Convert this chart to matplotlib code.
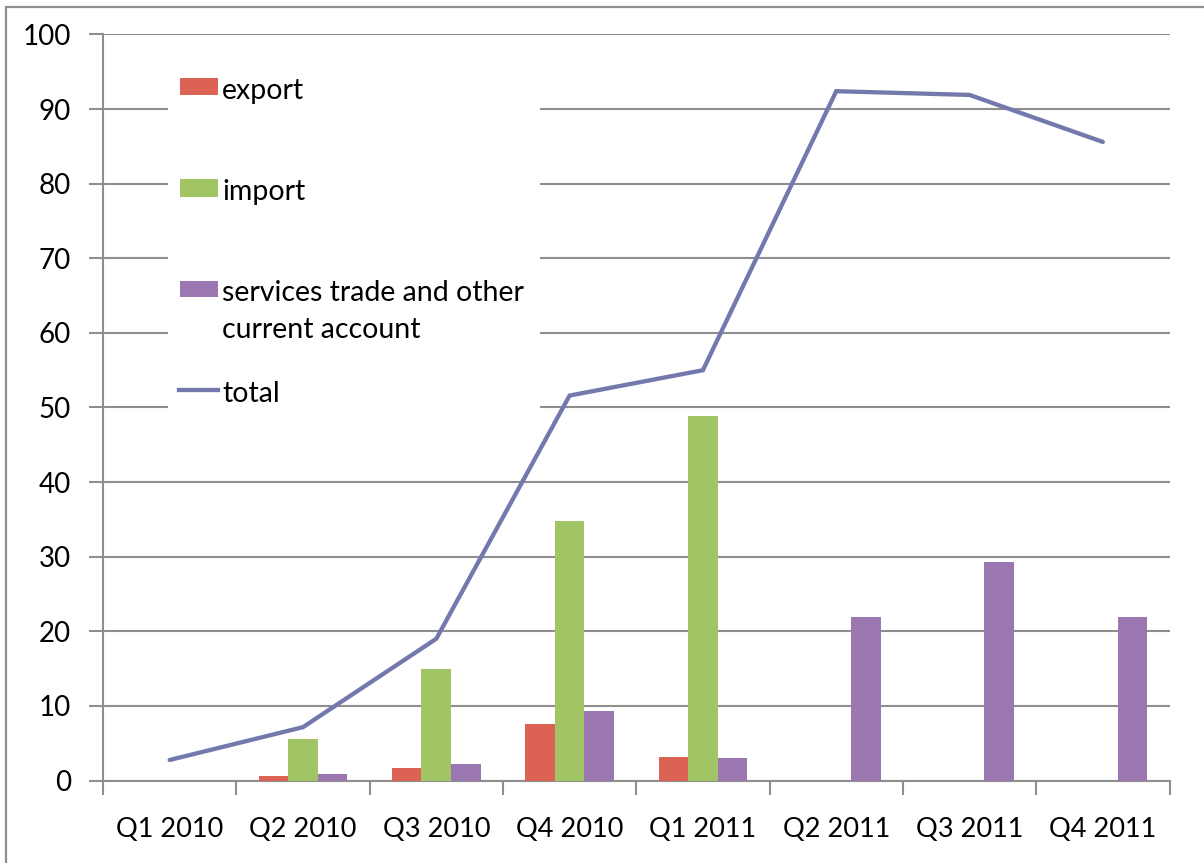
import numpy as np
import matplotlib
matplotlib.use("Agg")
import matplotlib.pyplot as plt
from matplotlib.patches import Rectangle
from matplotlib.lines import Line2D

plt.rcParams['font.family'] = ['Lato', 'DejaVu Sans']

categories = ["Q1 2010", "Q2 2010", "Q3 2010", "Q4 2010",
              "Q1 2011", "Q2 2011", "Q3 2011", "Q4 2011"]
export = [np.nan, 0.65, 1.7, 7.6, 3.1, np.nan, np.nan, np.nan]
imports = [np.nan, 5.6, 15.0, 34.8, 48.9, np.nan, np.nan, np.nan]
services = [np.nan, 0.9, 2.2, 9.25, 2.95, 21.9, 29.3, 21.95]
total = [2.75, 7.15, 19.0, 51.6, 55.0, 92.4, 91.9, 85.6]
y_ticks = list(range(0, 101, 10))
legend_labels = ["export", "import", "services trade and other", "current account", "total"]

C_EXP = "#DD6256"
C_IMP = "#A1C465"
C_SRV = "#9B77B1"
C_TOT = "#7479AD"
GRID = "#8E8E8E"

W, H = 1204, 863
fig = plt.figure(figsize=(W / 100, H / 100), dpi=100)

def fx(px):
    return px / W

def fy(py):
    return 1 - py / H

ax_l, ax_r, ax_t, ax_b = 103, 1169.5, 34.5, 780.5
ax = fig.add_axes([fx(ax_l), fy(ax_b), fx(ax_r) - fx(ax_l), fy(ax_t) - fy(ax_b)])
ax.set_zorder(1)

x = np.arange(len(categories))
w = 0.222
ax.bar(x - w, export, w, color=C_EXP, zorder=3)
ax.bar(x, imports, w, color=C_IMP, zorder=3)
ax.bar(x + w, services, w, color=C_SRV, zorder=3)
ax.plot(x, total, color=C_TOT, lw=3.1, zorder=4, solid_capstyle='round', solid_joinstyle='miter')

ax.set_xlim(-0.5, len(categories) - 0.5)
ax.set_ylim(0, 100)
ax.set_yticks(y_ticks)
ax.set_yticklabels([str(v) for v in y_ticks])
ax.yaxis.grid(True, color=GRID, lw=1.5, zorder=0)
ax.set_axisbelow(True)

# x ticks at category boundaries, labels at centres
ax.set_xticks(np.arange(-0.5, len(categories), 1.0))
ax.set_xticklabels([])
ax.set_xticks(x, minor=True)
ax.set_xticklabels(categories, minor=True)
ax.tick_params(axis='x', which='major', length=10, width=1.5, color=GRID, direction='out')
ax.tick_params(axis='x', which='minor', length=0, pad=26, labelsize=19.5)
ax.tick_params(axis='y', length=10, width=1.5, color=GRID, direction='out', pad=13, labelsize=20)

for s in ['top', 'right']:
    ax.spines[s].set_visible(False)
for s in ['left', 'bottom']:
    ax.spines[s].set_color(GRID)
    ax.spines[s].set_linewidth(1.5)

# overlay axes for legend and frame (figure-fraction coordinates)
ov = fig.add_axes([0, 0, 1, 1], facecolor='none')
ov.set_zorder(5)
ov.set_axis_off()
ov.set_xlim(0, 1)
ov.set_ylim(0, 1)

def rect(px0, py0, px1, py1, **kw):
    return Rectangle((fx(px0), fy(py1)), fx(px1) - fx(px0), fy(py0) - fy(py1), **kw)

ov.add_patch(rect(168, 60, 540, 420, facecolor='white', edgecolor='none'))
for col, (py0, py1) in zip([C_EXP, C_IMP, C_SRV], [(78, 95), (179, 197), (281, 297)]):
    ov.add_patch(rect(180, py0, 218, py1, facecolor=col, edgecolor='none'))
for lab, base in zip(legend_labels[:4], [99, 200, 301, 338]):
    ov.text(fx(222), fy(base), lab, fontsize=20.5, va='baseline', ha='left', color='black')
ov.add_line(Line2D([fx(179), fx(218)], [fy(390), fy(390)], color=C_TOT, lw=3.1))
ov.text(fx(222), fy(402), legend_labels[4], fontsize=20.5, va='baseline', ha='left', color='black')

# outer chart frame
ov.add_patch(rect(5.5, 6.5, 1210, 870, facecolor='none', edgecolor=GRID, lw=1.6, clip_on=False))

fig.savefig("out.png", dpi=100)
